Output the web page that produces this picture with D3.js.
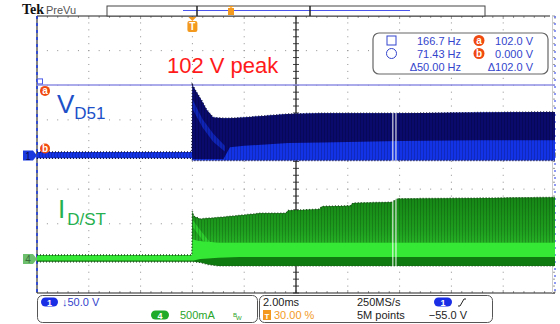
<!DOCTYPE html>
<html>
<head>
<meta charset="utf-8">
<script src="https://cdn.jsdelivr.net/npm/d3@7"></script>
<style>
  html, body { margin: 0; padding: 0; background: #fff; }
  svg { display: block; font-family: "Liberation Sans", Arial, sans-serif; }
</style>
</head>
<body>
<div id="scope"></div>
<script>
// time axis, ms (2 ms/div, trigger at 30 %)
const timeDomain = [-6, 14];

// channel 1, V_D51 (50 V/div) envelope
const tV   = [-6, -0.02, 0, 0.15, 0.35, 0.55, 0.8, 1.2, 1.45, 2, 3.7, 5, 8, 11, 14];
const vTop = [5, 5, 102, 92, 80, 66, 55, 54, 54, 55, 60, 61, 61, 62, 63];
const vMid = [5, 5, -5, -5, -5, -5, -5, -5, 12, 14, 18, 19, 21, 22, 22];
const vBot = [-4, -4, -7, -7, -7, -7, -7, -7, -7, -7, -7, -7, -7, -7, -7];
// turn-on ringing streak inside the ch1 envelope
const tVr   = [0.02, 0.4, 0.8, 1.25];
const vrTop = [80, 52, 32, 14];
const vrBot = [66, 40, 20, 6];

// channel 4, I_D/ST (500 mA/div) envelope
const tI   = [-6, -0.02, 0, 0.05, 0.3, 0.6, 1.0, 1.8, 2.6, 3.6, 3.7, 4.9, 5.0, 6.1, 6.2, 7.7, 7.9, 11, 14];
const iTop = [0.06, 0.06, 0.69, 0.62, 0.58, 0.59, 0.60, 0.63, 0.66, 0.66, 0.70, 0.72, 0.76, 0.77, 0.81, 0.82, 0.87, 0.88, 0.89];
const iMid = [0.05, 0.05, 0.30, 0.28, 0.26, 0.25, 0.24, 0.24, 0.24, 0.24, 0.24, 0.24, 0.24, 0.24, 0.24, 0.24, 0.24, 0.24, 0.24];
const iLow = [-0.02, -0.02, -0.02, -0.02, 0.0, 0.01, 0.02, 0.03, 0.03, 0.03, 0.03, 0.03, 0.03, 0.03, 0.03, 0.03, 0.03, 0.03, 0.03];
const iBot = [-0.04, -0.04, -0.04, -0.04, -0.05, -0.08, -0.1, -0.1, -0.1, -0.1, -0.1, -0.1, -0.1, -0.1, -0.1, -0.1, -0.1, -0.1, -0.1];
const tIr   = [0.02, 0.3, 0.6, 0.9];
const irTop = [0.56, 0.42, 0.28, 0.16];
const irBot = [0.46, 0.32, 0.18, 0.08];

// acquisition dropouts (ms)
const gapT = [7.74, 7.86];

// cursors
const cursorV = [102, 0];
const readRows = [
  ["166.7 Hz", "a", "102.0 V"],
  ["71.43 Hz", "b", "0.000 V"],
  ["\u039450.00 Hz", "", "\u0394102.0 V"]
];

const W = 560, H = 324;
const plot = { left: 37, right: 555, top: 16, bottom: 293 };
const divX = (plot.right - plot.left) / 10;
const divY = (plot.bottom - plot.top) / 8;
const cx = plot.left + 5 * divX, cy = plot.top + 4 * divY;

const blue = "#1333e6", navy = "#0a0a6c", lime = "#35e835", grnDark = "#0f7a0f";

const svg = d3.select("#scope").append("svg").attr("width", W).attr("height", H);
const defs = svg.append("defs");
const stripes = defs.append("pattern").attr("id", "stripes")
  .attr("patternUnits", "userSpaceOnUse").attr("width", 3).attr("height", 8);
stripes.append("rect").attr("width", 1).attr("height", 8).attr("fill", "rgba(0,0,0,0.18)");
const grad = defs.append("linearGradient").attr("id", "grnGrad").attr("x1", 0).attr("x2", 0).attr("y1", 0).attr("y2", 1);
grad.append("stop").attr("offset", "0%").attr("stop-color", "#158615");
grad.append("stop").attr("offset", "55%").attr("stop-color", "#1e9e1e");
grad.append("stop").attr("offset", "100%").attr("stop-color", "#2cc22c");
const clip = defs.append("clipPath").attr("id", "plotclip");
clip.append("rect").attr("x", plot.left).attr("y", plot.top)
  .attr("width", plot.right - plot.left).attr("height", plot.bottom - plot.top);

const x = d3.scaleLinear().domain(timeDomain).range([plot.left, plot.right]);
const ch1Pos = -0.03, ch4Pos = -3.02;
const yV = d3.scaleLinear().domain([(-4 - ch1Pos) * 50, (4 - ch1Pos) * 50]).range([plot.bottom, plot.top]);
const yI = d3.scaleLinear().domain([(-4 - ch4Pos) * 0.5, (4 - ch4Pos) * 0.5]).range([plot.bottom, plot.top]);

// ---- graticule
const grat = svg.append("g");
const minorX = d3.range(0, 51).map(i => plot.left + i * divX / 5);
const minorY = d3.range(0, 41).map(i => plot.top + i * divY / 5);
for (let k = 1; k < 10; k++) {
  if (k === 5) continue;
  const gx = plot.left + k * divX;
  grat.selectAll(null).data(minorY.slice(1, -1)).enter().append("rect")
    .attr("x", gx - 0.5).attr("y", d => d - 0.5).attr("width", 1).attr("height", 1).attr("fill", "#8f8f8f");
}
for (let j = 1; j < 8; j++) {
  if (j === 4) continue;
  const gy = plot.top + j * divY;
  grat.selectAll(null).data(minorX.slice(1, -1)).enter().append("rect")
    .attr("x", d => d - 0.5).attr("y", gy - 0.5).attr("width", 1).attr("height", 1).attr("fill", "#8f8f8f");
}
// border ticks
grat.selectAll(null).data(minorX).enter().append("line")
  .attr("x1", d => d).attr("x2", d => d).attr("y1", plot.top).attr("y2", (d, i) => plot.top + (i % 5 ? 2 : 3))
  .attr("stroke", "#999");
grat.selectAll(null).data(minorX).enter().append("line")
  .attr("x1", d => d).attr("x2", d => d).attr("y1", plot.bottom).attr("y2", (d, i) => plot.bottom - (i % 5 ? 2 : 3))
  .attr("stroke", "#999");
grat.selectAll(null).data(minorY).enter().append("line")
  .attr("x1", plot.right - 3).attr("x2", plot.right).attr("y1", d => d).attr("y2", d => d)
  .attr("stroke", "#999");
// center lines
grat.append("line").attr("x1", plot.left).attr("x2", plot.right).attr("y1", cy).attr("y2", cy).attr("stroke", "#222");
grat.selectAll(null).data(minorX).enter().append("line")
  .attr("x1", d => d).attr("x2", d => d).attr("y1", cy - 2).attr("y2", cy + 2).attr("stroke", "#222");
grat.selectAll(null).data(minorY).enter().append("line")
  .attr("x1", cx - 3).attr("x2", cx + 3).attr("y1", d => d).attr("y2", d => d).attr("stroke", "#444");
// frame
grat.append("line").attr("x1", plot.left).attr("x2", plot.right - 5).attr("y1", plot.top).attr("y2", plot.top).attr("stroke", "#222");
grat.append("line").attr("x1", plot.left).attr("x2", plot.right).attr("y1", plot.bottom).attr("y2", plot.bottom).attr("stroke", "#222").attr("stroke-width", 1.2);
grat.append("line").attr("x1", plot.right - 2.5).attr("x2", plot.right - 2.5).attr("y1", plot.top).attr("y2", plot.bottom).attr("stroke", "#ccc");
grat.append("line").attr("x1", plot.left).attr("x2", plot.left).attr("y1", plot.top).attr("y2", plot.bottom)
  .attr("stroke", "#333").attr("stroke-width", 1.2);
grat.append("line").attr("x1", plot.left).attr("x2", plot.left).attr("y1", plot.top).attr("y2", plot.bottom)
  .attr("stroke", "#2040e0").attr("stroke-width", 1.6).attr("stroke-dasharray", "3 4");
grat.append("line").attr("x1", plot.right).attr("x2", plot.right).attr("y1", plot.top).attr("y2", plot.bottom)
  .attr("stroke", "#6070ee").attr("stroke-width", 1.4).attr("stroke-dasharray", "2 5");
grat.append("line").attr("x1", cx).attr("x2", cx).attr("y1", plot.top).attr("y2", plot.bottom).attr("stroke", "#222").attr("stroke-width", 1.3);

// ---- cursor a line
svg.append("line").attr("x1", plot.left).attr("x2", plot.right)
  .attr("y1", yV(cursorV[0])).attr("y2", yV(cursorV[0]))
  .attr("stroke", "#8f8fe6").attr("stroke-width", 1.5);

// ---- traces
const traces = svg.append("g").attr("clip-path", "url(#plotclip)");
function band(ts, top, bot, yS) {
  return d3.area().x((d, i) => x(ts[i])).y0((d, i) => yS(bot[i])).y1((d, i) => yS(top[i]))(ts);
}
function edge(ts, vals, yS) {
  return d3.line().x((d, i) => x(ts[i])).y((d, i) => yS(vals[i]))(ts);
}
// ch1
traces.append("path").attr("d", band(tV, vTop, vBot, yV)).attr("fill", blue);
traces.append("path").attr("d", band(tV, vTop, vMid, yV)).attr("fill", navy);
traces.append("path").attr("d", band(tVr, vrTop, vrBot, yV)).attr("fill", blue).attr("opacity", 0.6);
traces.append("path").attr("d", band(tV, vTop, vBot, yV)).attr("fill", "url(#stripes)");
traces.append("path").attr("d", edge(tV, vTop, yV)).attr("fill", "none")
  .attr("stroke", "#1a1a40").attr("stroke-width", 1.5).attr("stroke-dasharray", "1 2");
traces.append("path").attr("d", edge(tV, vBot, yV)).attr("fill", "none")
  .attr("stroke", "#1a1a40").attr("stroke-width", 1.5).attr("stroke-dasharray", "1 2");
// ch4
traces.append("path").attr("d", band(tI, iTop, iBot, yI)).attr("fill", grnDark);
traces.append("path").attr("d", band(tI, iTop, iMid, yI)).attr("fill", "url(#grnGrad)");
traces.append("path").attr("d", band(tI, iMid, iLow, yI)).attr("fill", lime);
traces.append("path").attr("d", band(tIr, irTop, irBot, yI)).attr("fill", lime).attr("opacity", 0.6);
traces.append("path").attr("d", band(tI, iTop, iMid, yI)).attr("fill", "url(#stripes)");
traces.append("path").attr("d", edge(tI, iTop, yI)).attr("fill", "none")
  .attr("stroke", "#1e4a1e").attr("stroke-width", 1.5).attr("stroke-dasharray", "1 2");
traces.append("path").attr("d", edge(tI, iBot, yI)).attr("fill", "none")
  .attr("stroke", "#1e4a1e").attr("stroke-width", 1.2).attr("stroke-dasharray", "1 2");
// dropouts
traces.selectAll(null).data(gapT).enter().append("line")
  .attr("x1", d => x(d)).attr("x2", d => x(d))
  .attr("y1", yV(65)).attr("y2", yI(-0.12))
  .attr("stroke", "#fff").attr("stroke-width", 1);

// ---- annotations
svg.append("text").attr("x", 167).attr("y", 73).attr("fill", "#ff1a1a").attr("font-size", 22).text("102 V peak");
const vl = svg.append("text").attr("x", 57).attr("y", 113).attr("fill", "#2050c8");
vl.append("tspan").attr("font-size", 26).text("V");
vl.append("tspan").attr("font-size", 17).attr("dy", 6).text("D51");
const il = svg.append("text").attr("x", 58).attr("y", 218).attr("fill", "#27b04f");
il.append("tspan").attr("font-size", 26).text("I");
il.append("tspan").attr("font-size", 17).attr("dx", 2).attr("dy", 7).text("D/ST");

// cursor markers
svg.append("rect").attr("x", plot.left + 0.5).attr("y", yV(cursorV[0]) - 6).attr("width", 5).attr("height", 5)
  .attr("fill", "none").attr("stroke", "#4a5ae8");
[["a", yV(cursorV[0]) + 6], ["b", yV(cursorV[1]) - 7]].forEach(([t, yy]) => {
  svg.append("circle").attr("cx", 45).attr("cy", yy).attr("r", 5).attr("fill", "#f04a10");
  svg.append("text").attr("x", 45).attr("y", yy + 3.5).attr("text-anchor", "middle")
    .attr("fill", "#fff").attr("font-size", 10).attr("font-weight", "bold").text(t);
});

// channel ground markers
function chMarker(yy, fill, txtColor, label) {
  const g = svg.append("g");
  g.append("path").attr("d", `M23,${yy - 5} H33 L37,${yy} L33,${yy + 5} H23 Z`).attr("fill", fill);
  g.append("text").attr("x", 28).attr("y", yy + 4).attr("text-anchor", "middle")
    .attr("font-size", 10).attr("fill", txtColor).text(label);
}
chMarker(yV(0), "#1a3ae0", "#0a0a50", "1");
chMarker(yI(0), "#6cbf6c", "#3a6a3a", "4");

// trigger marker
const tx = x(0);
svg.append("path").attr("d", `M${tx - 4},17 H${tx + 4} L${tx},21 Z`).attr("fill", "#f39a1e");
svg.append("rect").attr("x", tx - 5).attr("y", 21).attr("width", 10).attr("height", 11).attr("rx", 2).attr("fill", "#f39a1e");
svg.append("text").attr("x", tx).attr("y", 30).attr("text-anchor", "middle").attr("fill", "#fff")
  .attr("font-size", 10).attr("font-weight", "bold").text("T");

// ---- header
svg.append("text").attr("x", 22).attr("y", 14).attr("font-family", "Liberation Serif, serif")
  .attr("font-weight", "bold").attr("font-size", 14).attr("fill", "#111").text("Tek");
svg.append("text").attr("x", 46).attr("y", 14).attr("font-size", 11).attr("fill", "#555").text("PreVu");
svg.append("rect").attr("x", 107).attr("y", 6).attr("width", 378).attr("height", 10).attr("fill", "#fff").attr("stroke", "#444");
svg.append("line").attr("x1", 183).attr("x2", 410).attr("y1", 10.5).attr("y2", 10.5).attr("stroke", "#4a55ee").attr("stroke-width", 1.2);
[197, 310].forEach(bx => svg.append("line").attr("x1", bx).attr("x2", bx).attr("y1", 6).attr("y2", 16)
  .attr("stroke", "#222").attr("stroke-width", 1.5));
svg.append("rect").attr("x", 228).attr("y", 8).attr("width", 6).attr("height", 7).attr("fill", "#f39a1e");
svg.append("path").attr("d", "M228,6 H234 L231,8 Z").attr("fill", "#f39a1e");

// ---- cursor readout
svg.append("rect").attr("x", 373).attr("y", 33).attr("width", 175).attr("height", 41).attr("rx", 6)
  .attr("fill", "#fff").attr("stroke", "#666").attr("stroke-width", 1.2);
svg.append("rect").attr("x", 387).attr("y", 36).attr("width", 9).attr("height", 9).attr("fill", "none").attr("stroke", "#3344cc");
svg.append("circle").attr("cx", 391.5).attr("cy", 53.5).attr("r", 5).attr("fill", "none").attr("stroke", "#3344cc");
readRows.forEach((r, i) => {
  const yy = 44.5 + i * 13;
  svg.append("text").attr("x", 461).attr("y", yy).attr("text-anchor", "end").attr("font-size", 11).attr("fill", "#3344cc").text(r[0]);
  svg.append("text").attr("x", 533).attr("y", yy).attr("text-anchor", "end").attr("font-size", 11).attr("fill", "#3344cc").text(r[2]);
  if (r[1]) {
    svg.append("circle").attr("cx", 479).attr("cy", yy - 4).attr("r", 5.5).attr("fill", "#f04a10");
    svg.append("text").attr("x", 479).attr("y", yy - 0.5).attr("text-anchor", "middle").attr("fill", "#fff")
      .attr("font-size", 10).attr("font-weight", "bold").text(r[1]);
  }
});

// ---- bottom status
svg.append("rect").attr("x", 37.5).attr("y", 295.5).attr("width", 220).attr("height", 27).attr("rx", 5)
  .attr("fill", "#fff").attr("stroke", "#555");
svg.append("rect").attr("x", 259.5).attr("y", 295.5).attr("width", 233).attr("height", 27).attr("rx", 5)
  .attr("fill", "#fff").attr("stroke", "#555");
function pill(px, py, w, fill, label, txt) {
  svg.append("rect").attr("x", px).attr("y", py).attr("width", w).attr("height", 9).attr("rx", 4.5).attr("fill", fill);
  svg.append("text").attr("x", px + w / 2).attr("y", py + 8).attr("text-anchor", "middle")
    .attr("font-size", 9).attr("font-weight", "bold").attr("fill", txt).text(label);
}
pill(41, 297.5, 17, "#1a2ee6", "1", "#fff");
svg.append("text").attr("x", 62).attr("y", 306).attr("font-size", 11).attr("fill", "#3344cc").text("\u219350.0 V");
pill(151, 310.5, 18, "#1faa2a", "4", "#fff");
svg.append("text").attr("x", 180).attr("y", 319).attr("font-size", 11).attr("fill", "#2aa52a").text("500mA");
svg.append("text").attr("x", 233).attr("y", 317).attr("font-size", 6).attr("fill", "#2aa52a").text("B");
svg.append("text").attr("x", 236).attr("y", 320).attr("font-size", 6).attr("fill", "#2aa52a").text("W");

svg.append("text").attr("x", 263).attr("y", 306).attr("font-size", 11).attr("fill", "#222").text("2.00ms");
svg.append("rect").attr("x", 263).attr("y", 310).attr("width", 8).attr("height", 10).attr("fill", "#f39a1e");
svg.append("text").attr("x", 267).attr("y", 318.5).attr("text-anchor", "middle").attr("font-size", 8)
  .attr("font-weight", "bold").attr("fill", "#fff").text("T");
svg.append("text").attr("x", 274).attr("y", 319).attr("font-size", 11).attr("fill", "#f39a1e").text("30.00 %");
svg.append("text").attr("x", 357).attr("y", 306).attr("font-size", 11).attr("fill", "#222").text("250MS/s");
svg.append("text").attr("x", 357).attr("y", 319).attr("font-size", 11).attr("fill", "#222").text("5M points");
pill(434, 297.5, 18, "#1a2ee6", "1", "#fff");
svg.append("path").attr("d", "M458,306 H460 L464,299 H466").attr("fill", "none").attr("stroke", "#222");
svg.append("text").attr("x", 467).attr("y", 319).attr("text-anchor", "end").attr("font-size", 11).attr("fill", "#222").text("\u221255.0 V");
</script>
</body>
</html>
